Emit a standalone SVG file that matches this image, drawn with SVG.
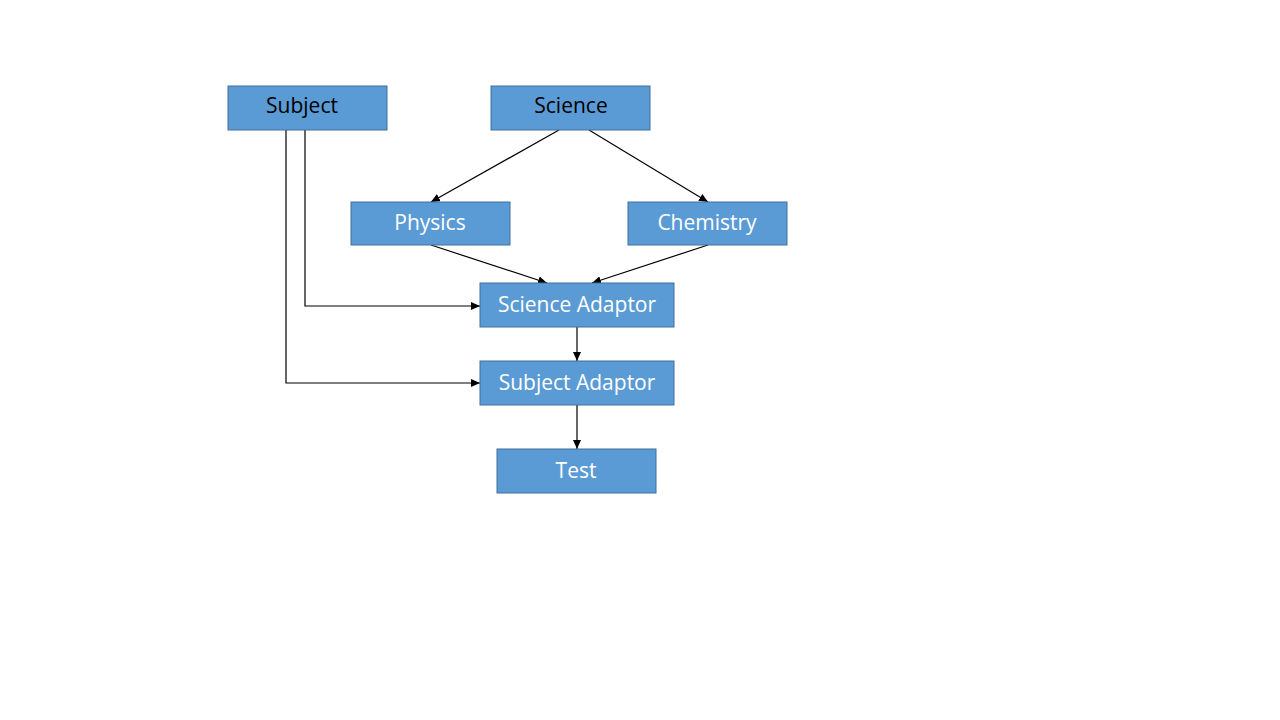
<svg xmlns="http://www.w3.org/2000/svg" width="1280" height="720" viewBox="0 0 1280 720">
<style>
.box{fill:#5B9BD5;stroke:#41719C;stroke-width:1}
.lbl{font-family:"Open Sans","Liberation Sans",sans-serif;font-size:21px;text-anchor:middle;dominant-baseline:central}
.w{fill:#FFFFFF}
.k{fill:#000000}
.c{fill:none;stroke:#000;stroke-width:1.2}
</style>
<defs>
<marker id="ah" markerWidth="10" markerHeight="8" refX="9" refY="4" orient="auto" markerUnits="userSpaceOnUse">
<path d="M0,0 L9,4 L0,8 Z" fill="#000"/>
</marker>
</defs>
<rect width="1280" height="720" fill="#fff"/>
<g id="connectors">
<line class="c" x1="559" y1="130" x2="431" y2="202" marker-end="url(#ah)"/>
<line class="c" x1="589" y1="130" x2="708" y2="202" marker-end="url(#ah)"/>
<line class="c" x1="431" y1="245" x2="547" y2="283" marker-end="url(#ah)"/>
<line class="c" x1="708" y1="245" x2="592" y2="283" marker-end="url(#ah)"/>
<polyline class="c" points="305,130 305,306 480,306" marker-end="url(#ah)"/>
<polyline class="c" points="286,130 286,383 480,383" marker-end="url(#ah)"/>
<line class="c" x1="577" y1="327" x2="577" y2="361" marker-end="url(#ah)"/>
<line class="c" x1="577" y1="405" x2="577" y2="449" marker-end="url(#ah)"/>
</g>
<g id="subject"><rect class="box" x="228" y="86" width="159" height="44"/><text class="lbl k" x="302" y="105">Subject</text></g>
<g id="science"><rect class="box" x="491" y="86" width="159" height="44"/><text class="lbl k" x="571" y="105">Science</text></g>
<g id="physics"><rect class="box" x="351" y="202" width="159" height="43"/><text class="lbl w" x="430" y="222">Physics</text></g>
<g id="chemistry"><rect class="box" x="628" y="202" width="159" height="43"/><text class="lbl w" x="707" y="222">Chemistry</text></g>
<g id="science-adaptor"><rect class="box" x="480" y="283" width="194" height="44"/><text class="lbl w" x="577" y="304">Science Adaptor</text></g>
<g id="subject-adaptor"><rect class="box" x="480" y="361" width="194" height="44"/><text class="lbl w" x="577" y="382">Subject Adaptor</text></g>
<g id="test"><rect class="box" x="497" y="449" width="159" height="44"/><text class="lbl w" x="576" y="470">Test</text></g>
</svg>
